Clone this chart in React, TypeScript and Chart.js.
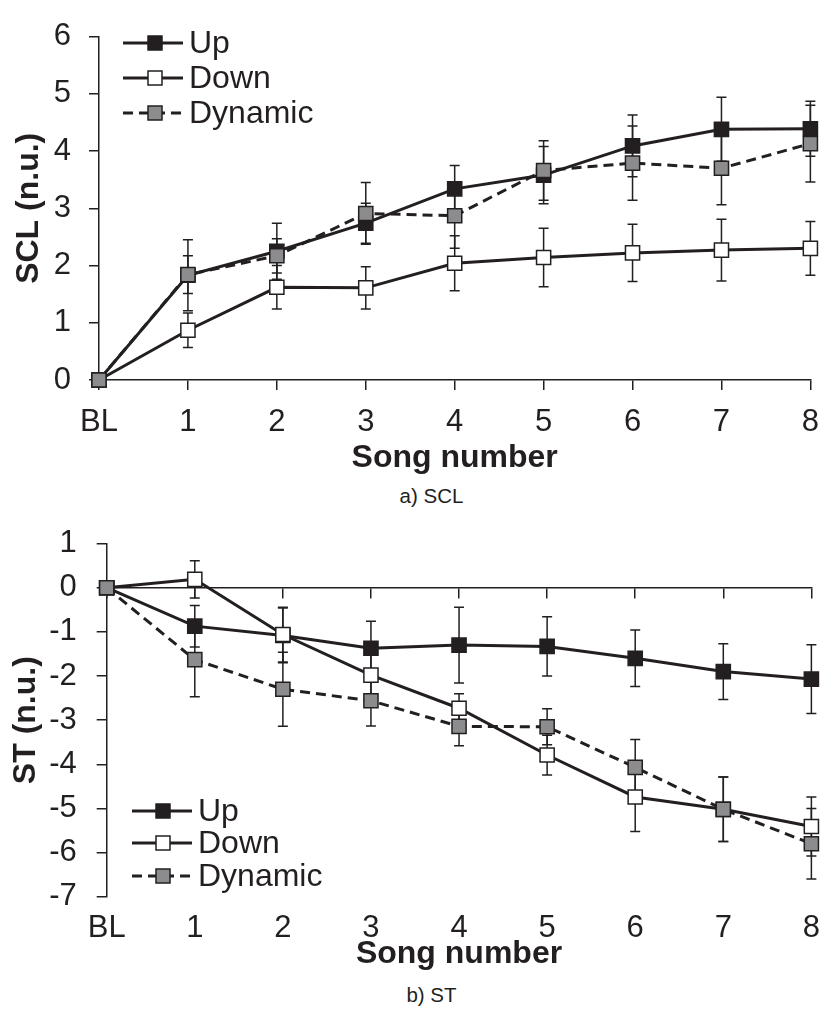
import React, { useEffect, useRef } from 'react';
import { Chart, registerables } from 'chart.js';

Chart.register(...registerables);

// ---------- data ----------
const songLabels = ['BL', '1', '2', '3', '4', '5', '6', '7', '8'];
const seriesNames = ['Up', 'Down', 'Dynamic'];

const sclUp = [0, 1.83, 2.25, 2.74, 3.34, 3.58, 4.09, 4.38, 4.39];
const sclUpErr = [0, 0.62, 0.49, 0.35, 0.41, 0.5, 0.54, 0.56, 0.48];
const sclDown = [0, 0.87, 1.62, 1.61, 2.04, 2.14, 2.22, 2.27, 2.3];
const sclDownErr = [0, 0.3, 0.38, 0.37, 0.48, 0.51, 0.5, 0.54, 0.47];
const sclDyn = [0, 1.84, 2.17, 2.91, 2.87, 3.66, 3.79, 3.7, 4.13];
const sclDynErr = [0, 0.33, 0.3, 0.54, 0.57, 0.52, 0.65, 0.64, 0.67];

const stUp = [0, -0.87, -1.08, -1.37, -1.3, -1.33, -1.6, -1.9, -2.07];
const stUpErr = [0, 0.47, 0.62, 0.61, 0.86, 0.67, 0.64, 0.63, 0.78];
const stDown = [0, 0.19, -1.06, -1.98, -2.73, -3.79, -4.74, -5.02, -5.41];
const stDownErr = [0, 0.42, 0.62, 0.45, 0.33, 0.45, 0.78, 0.73, 0.67];
const stDyn = [0, -1.63, -2.3, -2.56, -3.14, -3.15, -4.07, -5.02, -5.8];
const stDynErr = [0, 0.84, 0.84, 0.57, 0.44, 0.41, 0.63, 0.73, 0.8];

// ---------- styles ----------
const INK = '#231f20';
const GREY = '#8c8c8e';
const FONT = '"Liberation Sans", Arial, Helvetica, sans-serif';

const errorBarPlugin = {
  id: 'errorBars',
  beforeDatasetsDraw(chart: any) {
    const ctx = chart.ctx;
    const yScale = chart.scales.y;
    chart.data.datasets.forEach((ds: any, di: number) => {
      const errs = ds.errors;
      if (!errs) return;
      const meta = chart.getDatasetMeta(di);
      ctx.save();
      ctx.strokeStyle = INK;
      ctx.lineWidth = 1.5;
      meta.data.forEach((pt: any, i: number) => {
        const e = errs[i];
        if (!e) return;
        const v = ds.data[i];
        const x = pt.x;
        const yT = yScale.getPixelForValue(v + e);
        const yB = yScale.getPixelForValue(v - e);
        ctx.beginPath();
        ctx.moveTo(x, yT);
        ctx.lineTo(x, yB);
        ctx.moveTo(x - 5, yT);
        ctx.lineTo(x + 5, yT);
        ctx.moveTo(x - 5, yB);
        ctx.lineTo(x + 5, yB);
        ctx.stroke();
      });
      ctx.restore();
    });
  },
};

const inlineLegendPlugin = {
  id: 'inlineLegend',
  afterDraw(chart: any, _args: any, opts: any) {
    if (!opts || !opts.rows) return;
    const ctx = chart.ctx;
    const { x0, x1, mx, tx, rows } = opts;
    chart.data.datasets.forEach((ds: any, i: number) => {
      const y = rows[i];
      ctx.save();
      ctx.strokeStyle = INK;
      ctx.lineWidth = 3;
      ctx.setLineDash(ds.borderDash || []);
      ctx.beginPath();
      ctx.moveTo(x0, y);
      ctx.lineTo(x1, y);
      ctx.stroke();
      ctx.setLineDash([]);
      const s = 14;
      ctx.fillStyle = ds.pointBackgroundColor;
      ctx.fillRect(mx - s / 2, y - s / 2, s, s);
      ctx.lineWidth = 1.5;
      ctx.strokeRect(mx - s / 2, y - s / 2, s, s);
      ctx.fillStyle = INK;
      ctx.font = `32px ${FONT}`;
      ctx.textBaseline = 'middle';
      ctx.textAlign = 'left';
      ctx.fillText(ds.label, tx, y + 1);
      ctx.restore();
    });
  },
};

function makeDatasets(up: number[], upE: number[], down: number[], downE: number[], dyn: number[], dynE: number[]) {
  const common = {
    borderColor: INK,
    borderWidth: 3,
    pointStyle: 'rect',
    pointRadius: 10,
    pointHoverRadius: 10,
    pointBorderColor: INK,
    pointBorderWidth: 1.5,
    tension: 0,
    clip: false,
  };
  return [
    { ...common, label: seriesNames[0], data: up, errors: upE, pointBackgroundColor: INK, order: 3 },
    { ...common, label: seriesNames[1], data: down, errors: downE, pointBackgroundColor: '#ffffff', order: 2 },
    { ...common, label: seriesNames[2], data: dyn, errors: dynE, pointBackgroundColor: GREY, borderDash: [10, 6], order: 1 },
  ];
}

interface PanelProps {
  top: number;
  height: number;
  datasets: any[];
  yMin: number;
  yMax: number;
  yTitle: string;
  yWidth: number;
  yTitlePad: number;
  yTickPad: number;
  padTop: number;
  xHeight: number;
  xTickPad: number;
  xTitlePad: number;
  crossAtZero: boolean;
  legend: any;
}

function Panel(p: PanelProps) {
  const ref = useRef<HTMLCanvasElement | null>(null);
  useEffect(() => {
    if (!ref.current) return;
    const tickFont = { family: FONT, size: 31 };
    const titleFont = { family: FONT, size: 32, weight: 'bold' as const };
    const scales: any = {
      x: {
        type: 'category',
        position: 'bottom',
        offset: false,
        grid: p.crossAtZero
          ? { display: false, drawTicks: false }
          : { drawOnChartArea: false, drawTicks: true, tickLength: 10, color: INK, lineWidth: 1.5 },
        border: p.crossAtZero ? { display: false } : { display: true, color: INK, width: 1.5 },
        ticks: { font: tickFont, color: INK, padding: p.xTickPad, maxRotation: 0, autoSkip: false },
        title: { display: true, text: 'Song number', font: titleFont, color: INK, padding: { top: 0, bottom: p.xTitlePad } },
        afterFit: (s: any) => {
          s.height = p.xHeight;
        },
      },
      y: {
        type: 'linear',
        min: p.yMin,
        max: p.yMax,
        grid: { drawOnChartArea: false, drawTicks: true, tickLength: 10, color: INK, lineWidth: 1.5 },
        border: { display: true, color: INK, width: 1.5 },
        ticks: { stepSize: 1, font: tickFont, color: INK, padding: p.yTickPad },
        title: { display: true, text: p.yTitle, font: titleFont, color: INK, padding: { top: p.yTitlePad, bottom: 0 } },
        afterFit: (s: any) => {
          s.width = p.yWidth;
        },
      },
    };
    if (p.crossAtZero) {
      scales.x2 = {
        type: 'category',
        position: { y: 0 },
        offset: false,
        grid: { drawOnChartArea: false, drawTicks: true, tickLength: 10, color: INK, lineWidth: 1.5 },
        border: { display: true, color: INK, width: 1.5 },
        ticks: { display: false },
      };
    }
    const chart = new Chart(ref.current, {
      type: 'line',
      data: { labels: songLabels, datasets: p.datasets },
      options: {
        responsive: false,
        animation: false,
        layout: { padding: { top: p.padTop, left: 0, right: 12, bottom: 0 } },
        scales,
        plugins: {
          legend: { display: false },
          tooltip: { enabled: false },
          inlineLegend: p.legend,
        } as any,
      },
      plugins: [errorBarPlugin, inlineLegendPlugin],
    } as any);
    return () => chart.destroy();
  }, []);
  return (
    <canvas
      ref={ref}
      width={833}
      height={p.height}
      style={{ position: 'absolute', left: 0, top: p.top, width: 833, height: p.height }}
    />
  );
}

const captionStyle: React.CSSProperties = {
  position: 'absolute',
  width: 833,
  left: 15,
  textAlign: 'center',
  fontFamily: FONT,
  fontSize: 20.5,
  lineHeight: '22px',
  color: INK,
};

export default function App() {
  return (
    <div style={{ position: 'absolute', left: 0, top: 0, width: 833, height: 1013, background: '#fff', overflow: 'hidden' }}>
      <Panel
        top={0}
        height={480}
        datasets={makeDatasets(sclUp, sclUpErr, sclDown, sclDownErr, sclDyn, sclDynErr)}
        yMin={0}
        yMax={6}
        yTitle="SCL (n.u.)"
        yWidth={99}
        yTitlePad={10}
        yTickPad={18}
        padTop={22.7}
        xHeight={100}
        xTickPad={14}
        xTitlePad={3}
        crossAtZero={false}
        legend={{ x0: 123, x1: 183, mx: 155, tx: 189, rows: [43, 78, 113] }}
      />
      <div style={{ ...captionStyle, top: 485 }}>a) SCL</div>
      <Panel
        top={505}
        height={470}
        datasets={makeDatasets(stUp, stUpErr, stDown, stDownErr, stDyn, stDynErr)}
        yMin={-7}
        yMax={1}
        yTitle="ST (n.u.)"
        yWidth={106.7}
        yTitlePad={7}
        yTickPad={20}
        padTop={27.7}
        xHeight={78.3}
        xTickPad={13}
        xTitlePad={2}
        crossAtZero={true}
        legend={{ x0: 132, x1: 192, mx: 163, tx: 198, rows: [306, 338, 371] }}
      />
      <div style={{ ...captionStyle, top: 984 }}>b) ST</div>
    </div>
  );
}
